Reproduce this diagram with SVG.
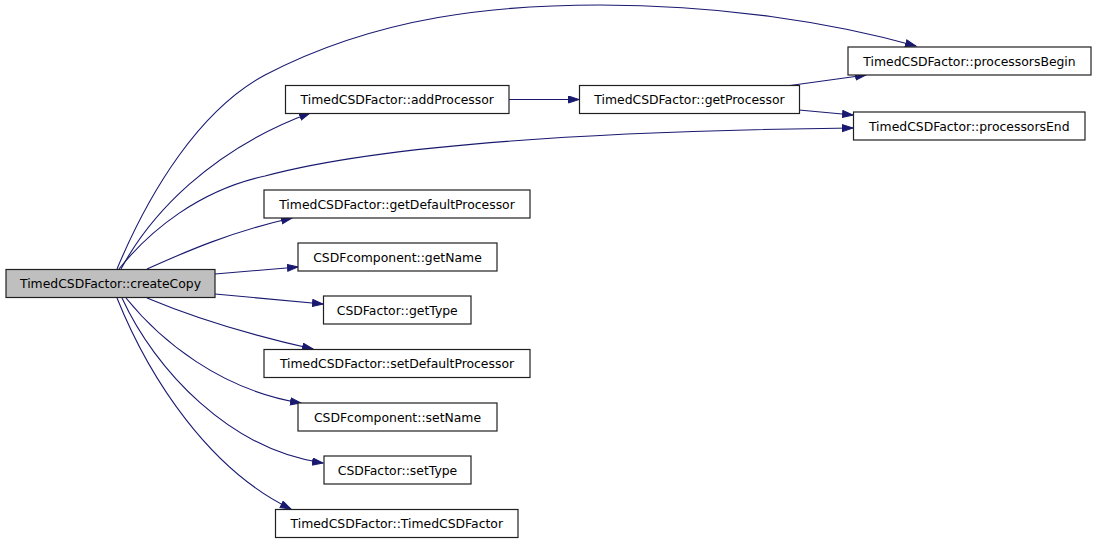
<svg xmlns="http://www.w3.org/2000/svg" width="1096" height="544" viewBox="0 0 1096 544">
<style>
.n rect{fill:#ffffff;stroke:#202020;stroke-width:1.2}
.n.root rect{fill:#bfbfbf}
.n text{font-family:"DejaVu Sans",sans-serif;font-size:12.4px;fill:#000000;text-anchor:middle}
.e path{fill:none;stroke:#191970;stroke-width:1.1;marker-end:url(#arr)}
</style>
<defs>
<marker id="arr" markerUnits="userSpaceOnUse" markerWidth="13" markerHeight="10" refX="11" refY="4" orient="auto">
<path d="M0.5,0.5 L11,4 L0.5,7.5 z" fill="#191970" stroke="#191970" stroke-width="1"/>
</marker>
</defs>
<rect width="1096" height="544" fill="#ffffff"/>
<g id="connectors" class="e">
<path d="M117,269 C150,190 200,110 265,75 C380,15 500,5 600,5 C720,5 830,22 916,46"/>
<path d="M121,269 C150,215 210,150 310,113"/>
<path d="M509,99.5 L579,99.5"/>
<path d="M790,85.5 L866,75"/>
<path d="M799,110 L853,115"/>
<path d="M119,269 C150,230 200,190 265,176 C380,145 600,131 853,128"/>
<path d="M147,269 C185,252 230,232 292,218"/>
<path d="M215,274 L298,267"/>
<path d="M215,294 L323,304"/>
<path d="M147,298 C190,316 250,335 313,349"/>
<path d="M126,298 C160,340 220,390 301,403"/>
<path d="M122,298 C155,370 230,450 323,463"/>
<path d="M117,298 C150,380 210,470 291,509"/>
</g>
<g id="createCopy" class="n root"><rect x="6" y="269.5" width="209" height="28"/><text x="110.5" y="288">TimedCSDFactor::createCopy</text></g>
<g id="addProcessor" class="n"><rect x="285.5" y="85.5" width="223.5" height="28"/><text x="397.25" y="104">TimedCSDFactor::addProcessor</text></g>
<g id="getProcessor" class="n"><rect x="579.5" y="85.5" width="220" height="28"/><text x="689.5" y="104">TimedCSDFactor::getProcessor</text></g>
<g id="processorsBegin" class="n"><rect x="848" y="47" width="243" height="28"/><text x="969.5" y="65.5">TimedCSDFactor::processorsBegin</text></g>
<g id="processorsEnd" class="n"><rect x="853.5" y="112" width="231.5" height="28"/><text x="969.25" y="130.5">TimedCSDFactor::processorsEnd</text></g>
<g id="getDefaultProcessor" class="n"><rect x="264" y="190" width="266" height="28"/><text x="397" y="208.5">TimedCSDFactor::getDefaultProcessor</text></g>
<g id="getName" class="n"><rect x="298" y="243" width="199" height="28"/><text x="397.5" y="261.5">CSDFcomponent::getName</text></g>
<g id="getType" class="n"><rect x="323.5" y="296" width="147.5" height="28"/><text x="397.25" y="314.5">CSDFactor::getType</text></g>
<g id="setDefaultProcessor" class="n"><rect x="264" y="349.5" width="266" height="28"/><text x="397" y="368">TimedCSDFactor::setDefaultProcessor</text></g>
<g id="setName" class="n"><rect x="298" y="403" width="199" height="28"/><text x="397.5" y="421.5">CSDFcomponent::setName</text></g>
<g id="setType" class="n"><rect x="324" y="456" width="147" height="28"/><text x="397.5" y="474.5">CSDFactor::setType</text></g>
<g id="TimedCSDFactor" class="n"><rect x="275.5" y="509.5" width="242.5" height="28"/><text x="396.75" y="528">TimedCSDFactor::TimedCSDFactor</text></g>
</svg>
